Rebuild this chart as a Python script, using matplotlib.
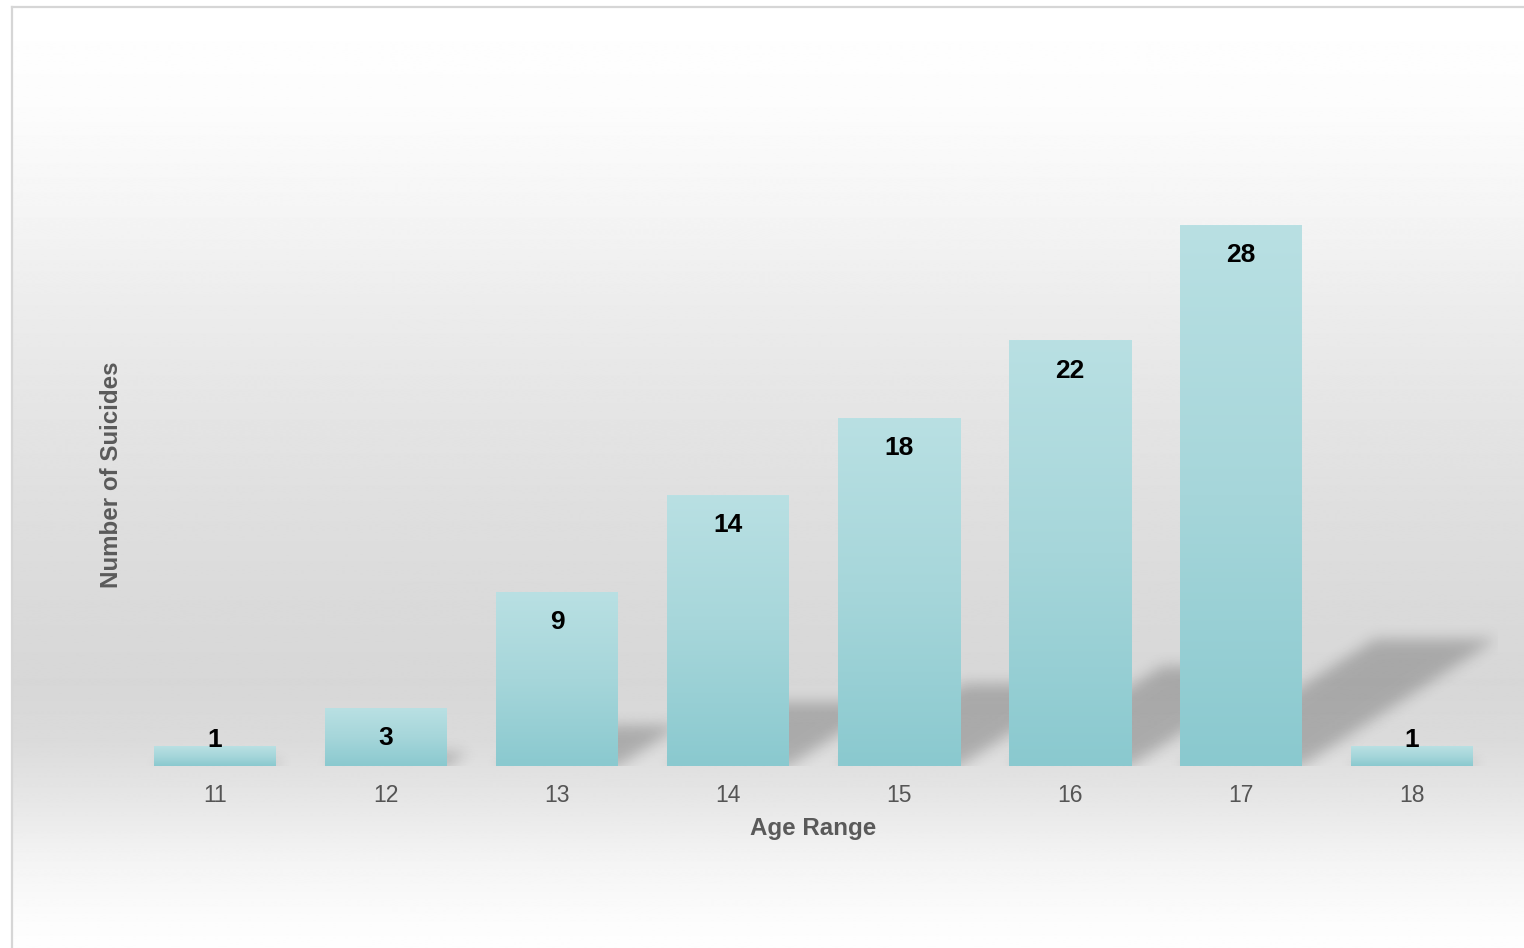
import matplotlib.pyplot as plt
import numpy as np
from matplotlib.colors import LinearSegmentedColormap
from matplotlib.lines import Line2D

ages = ['11', '12', '13', '14', '15', '16', '17', '18']
suicides = [1, 3, 9, 14, 18, 22, 28, 1]

W, H = 1524, 948
fig = plt.figure(figsize=(W / 100, H / 100), dpi=100)
plt.rcParams['font.family'] = ['Liberation Sans', 'DejaVu Sans']

# background: white at top and bottom, grey band through the middle
bg = fig.add_axes([12 / W, 0, 1 - 12 / W, 1 - 8 / H], zorder=0)
ys = np.array([0, 100, 200, 300, 400, 500, 600, 680, 740, 800, 860, 920, 948])
gs = np.array([255, 252, 245, 236, 229, 223, 218, 215, 219, 231, 244, 252, 254])
rows = np.interp(np.arange(H), ys, gs) / 255.0
bg.imshow(np.repeat(rows[:, None], 2, axis=1), cmap='gray', vmin=0, vmax=1,
          aspect='auto', extent=(0, 1, 0, 1), interpolation='bilinear')
bg.set_xlim(0, 1)
bg.set_ylim(0, 1)
bg.axis('off')

# frame lines on left and top
fig.add_artist(Line2D([11.5 / W, 11.5 / W], [0, 1 - 7 / H], color='#d6d6d6', lw=1.6))
fig.add_artist(Line2D([11.5 / W, 1], [1 - 7 / H, 1 - 7 / H], color='#d6d6d6', lw=1.6))

# plot area
px_unit_x = 171.0
px_unit_y = 19.32
ymax = 30
left = (215 - px_unit_x / 2) / W
bottom = (H - 766) / H
ax = fig.add_axes([left, bottom, 8 * px_unit_x / W, ymax * px_unit_y / H], zorder=1)
ax.patch.set_alpha(0)

x = np.arange(len(ages))
bw = 122 / px_unit_x

# cast shadows, rasterised and blurred
k = (0.36 / px_unit_x) / (0.235 / px_unit_y)   # x shift per y unit
gx = np.linspace(-0.5, 7.5, 1368)
gy = np.linspace(-1.0, 9.0, int(10 * px_unit_y))
X, Y = np.meshgrid(gx, gy)
mask = np.zeros_like(X)
for xi, v in zip(x, suicides):
    L, R = xi - bw / 2, xi + bw / 2
    hs = 0.235 * v
    m = (Y >= 0) & (Y <= hs) & (X >= L + k * Y) & (X <= R + k * Y)
    mask = np.maximum(mask, m.astype(float))
    under = (Y >= -0.2) & (Y <= 0) & (X >= L) & (X <= R + 0.02)
    mask = np.maximum(mask, 0.35 * under)


def blur(a, sigma, axis):
    r = int(3 * sigma)
    t = np.arange(-r, r + 1)
    kern = np.exp(-t ** 2 / (2 * sigma ** 2))
    kern /= kern.sum()
    return np.apply_along_axis(lambda s: np.convolve(s, kern, mode='same'), axis, a)


mask = blur(blur(mask, 7, 1), 7, 0)
shadow = np.zeros(mask.shape + (4,))
shadow[..., 3] = 0.22 * mask
ax.imshow(shadow, origin='lower', aspect='auto', zorder=1, interpolation='bilinear',
          extent=(gx[0], gx[-1], gy[0], gy[-1]))

# bars with a vertical gradient
bar_cmap = LinearSegmentedColormap.from_list('bar', ['#8ac9cf', '#a6d6da', '#b9e0e3'])
grad = np.linspace(0, 1, 256)[:, None]
for xi, v in zip(x, suicides):
    ax.imshow(grad, cmap=bar_cmap, origin='lower', aspect='auto', zorder=2,
              extent=(xi - bw / 2, xi + bw / 2, 0, v), interpolation='bilinear')
    ly = max(v - 1.55, 1.35)
    ax.text(xi, ly, str(v), ha='center', va='center', fontsize=19,
            fontweight='bold', color='black', zorder=3)

ax.set_xlim(-0.5, 7.5)
ax.set_ylim(0, ymax)
ax.set_xticks(x)
ax.set_xticklabels(ages, fontsize=16.5, color='#555555')
ax.tick_params(axis='x', length=0, pad=13)
ax.set_yticks([])
for s in ax.spines.values():
    s.set_visible(False)

fig.text(813 / W, 1 - 829 / H, 'Age Range', ha='center', va='center',
         fontsize=17.4, fontweight='bold', color='#5a5a5a')
fig.text(112 / W, 1 - 475 / H, 'Number of Suicides', ha='center', va='center',
         rotation=90, fontsize=17.4, fontweight='bold', color='#5a5a5a')

fig.savefig('out.png', dpi=100)
